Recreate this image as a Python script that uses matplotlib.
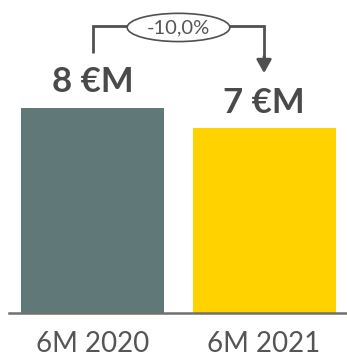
import matplotlib
matplotlib.use("Agg")
import matplotlib.pyplot as plt
from matplotlib.patches import Ellipse

categories = ["6M 2020", "6M 2021"]
values = [8.0, 7.2]
bar_colors = ["#607878", "#FFD200"]

text_color = "#4a4a4a"
plt.rcParams["font.family"] = ["Lato", "DejaVu Sans"]

W, H = 347, 361
fig = plt.figure(figsize=(W / 100, H / 100), dpi=100)
base_px = 313
ax = fig.add_axes([9 / W, (H - base_px) / H, 1 - 9 / W, base_px / H])

x = list(range(len(categories)))
ax.bar(x, values, width=0.836, color=bar_colors, zorder=2)
ax.set_xlim(-0.491, 1.485)
ax.set_ylim(0, 12.2)

for s in ["top", "right", "left"]:
    ax.spines[s].set_visible(False)
ax.spines["bottom"].set_color("#707070")
ax.spines["bottom"].set_linewidth(1.8)
ax.set_yticks([])
ax.set_xticks(x)
ax.set_xticklabels(categories, fontsize=20, color="#555555")
ax.tick_params(axis="x", length=0, pad=13)

# value labels above the bars
for xi, v in zip(x, values):
    ax.text(xi, v + 1.0, f"{v:.0f} €M", ha="center", va="center",
            fontsize=25, fontweight="bold", color=text_color)

# change bracket from first bar to second bar
change = (values[1] - values[0]) / values[0] * 100
y_top = 11.2
lc = "#505050"
ax.plot([x[0], x[0], x[1], x[1]], [values[0] + 2.15, y_top, y_top, values[1] + 2.6],
        color=lc, lw=2, solid_capstyle="butt", solid_joinstyle="miter", zorder=3)
ax.annotate("", xy=(x[1], values[1] + 2.15), xytext=(x[1], values[1] + 2.8),
            arrowprops=dict(arrowstyle="-|>,head_length=0.8,head_width=0.45",
                            color=lc, lw=2, shrinkA=0, shrinkB=0))
xm = (x[0] + x[1]) / 2
ax.add_patch(Ellipse((xm, 11.13), 0.60, 1.1, facecolor="white",
                     edgecolor=lc, lw=1.2, zorder=4, clip_on=False))
ax.text(xm, 11.13, f"{change:.1f}%".replace(".", ","), ha="center", va="center",
        fontsize=14.5, color="#555555", zorder=5)

fig.savefig("out.png", dpi=100)
